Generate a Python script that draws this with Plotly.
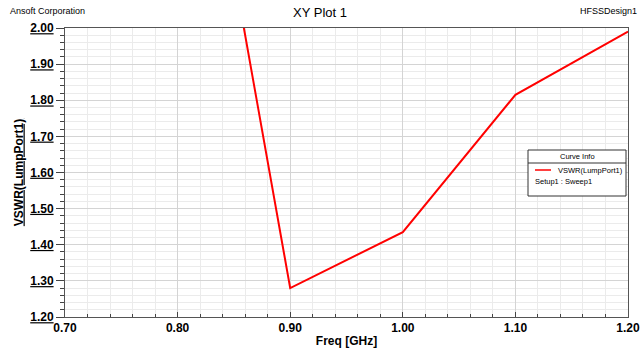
import plotly.graph_objects as go

freq_ghz = [0.8, 0.9, 1.0, 1.1, 1.2]
vswr = [3.03, 1.28, 1.435, 1.815, 1.99]

x_range = [0.70, 1.20]
y_range = [1.20, 2.00]

FONT = "Liberation Sans, Arial, sans-serif"

fig = go.Figure()
fig.add_trace(go.Scatter(x=freq_ghz, y=vswr, mode="lines",
                         line=dict(color="#ff0000", width=2),
                         showlegend=False, hoverinfo="skip"))

fig.update_layout(
    width=640, height=352,
    margin=dict(l=65, r=12, t=28, b=35, autoexpand=False),
    paper_bgcolor="white", plot_bgcolor="white",
    font=dict(family=FONT, color="black"),
    showlegend=False,
)

fig.update_xaxes(
    range=x_range, dtick=0.1, tick0=0.7, tickformat=".2f",
    showgrid=True, gridcolor="#d4d4d4", gridwidth=1,
    ticks="inside", ticklen=5, tickcolor="#444444",
    tickfont=dict(family=FONT, size=12, color="black", weight="bold"),
    ticklabeloverflow="allow",
    showline=True, linecolor="#555555", linewidth=1, mirror=True,
    zeroline=False, automargin=False,
    minor=dict(dtick=0.02, tick0=0.7, showgrid=True, gridcolor="#ebebeb",
               ticks="inside", ticklen=3, tickcolor="#444444"),
    title=dict(text="<b>Freq [GHz]</b>", font=dict(family=FONT, size=12), standoff=2),
)

fig.update_yaxes(
    range=y_range, dtick=0.1, tick0=1.2, tickformat=".2f",
    showgrid=True, gridcolor="#d4d4d4", gridwidth=1,
    ticks="outside", ticklen=8, tickcolor="#444444",
    tickfont=dict(family=FONT, size=12, color="black", weight="bold", lineposition="under"),
    ticklabeloverflow="allow",
    showline=True, linecolor="#555555", linewidth=1, mirror=True,
    zeroline=False, automargin=False,
    minor=dict(dtick=0.02, tick0=1.2, showgrid=True, gridcolor="#ebebeb",
               ticks="outside", ticklen=4, tickcolor="#444444"),
    title=dict(text="<b>VSWR(LumpPort1)</b>",
               font=dict(family=FONT, size=12, lineposition="under"), standoff=4),
)

def px(xp):
    return (xp - 65) / 563
def py(yp):
    return (317 - yp) / 289

fig.add_annotation(text="Ansoft Corporation", xref="paper", yref="paper",
                   x=px(8), y=py(11), xanchor="left", yanchor="middle",
                   showarrow=False, font=dict(family=FONT, size=9))
fig.add_annotation(text="XY Plot 1", xref="paper", yref="paper",
                   x=px(320), y=py(12), xanchor="center", yanchor="middle",
                   showarrow=False, font=dict(family=FONT, size=13))
fig.add_annotation(text="HFSSDesign1", xref="paper", yref="paper",
                   x=px(639), y=py(11), xanchor="right", yanchor="middle",
                   showarrow=False, font=dict(family=FONT, size=9))

fig.add_shape(type="rect", xref="paper", yref="paper",
              x0=px(528), x1=px(626), y0=py(196), y1=py(150),
              line=dict(color="#333333", width=1), fillcolor="white", layer="above")
fig.add_shape(type="line", xref="paper", yref="paper",
              x0=px(528), x1=px(626), y0=py(163), y1=py(163),
              line=dict(color="#333333", width=1), layer="above")
fig.add_shape(type="line", xref="paper", yref="paper",
              x0=px(535), x1=px(551), y0=py(170), y1=py(170),
              line=dict(color="#ff0000", width=1.5), layer="above")
fig.add_annotation(text="Curve Info", xref="paper", yref="paper",
                   x=px(577), y=py(156.5), xanchor="center", yanchor="middle",
                   showarrow=False, font=dict(family=FONT, size=7.5))
fig.add_annotation(text="VSWR(LumpPort1)", xref="paper", yref="paper",
                   x=px(556), y=py(170), xanchor="left", yanchor="middle",
                   showarrow=False, font=dict(family=FONT, size=7.5))
fig.add_annotation(text="Setup1 : Sweep1", xref="paper", yref="paper",
                   x=px(533), y=py(182), xanchor="left", yanchor="middle",
                   showarrow=False, font=dict(family=FONT, size=7.5))

fig.write_html("out.html", config={"displayModeBar": False},
               post_script="document.body.style.margin='0';document.body.style.overflow='hidden';")
